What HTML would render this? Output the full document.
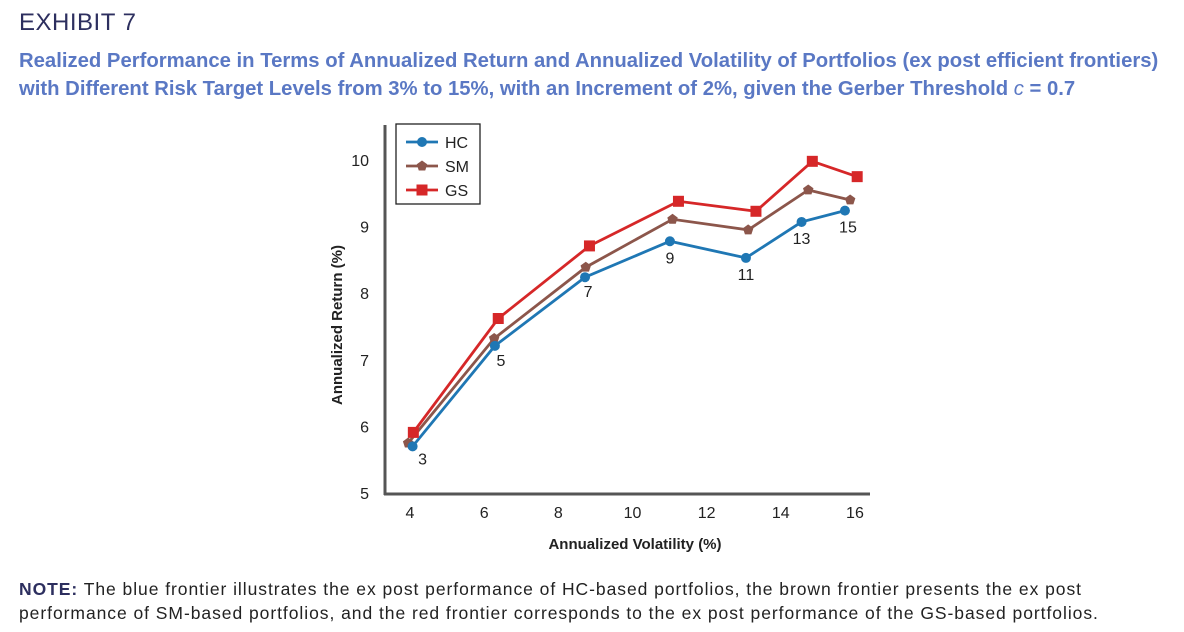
<!DOCTYPE html>
<html><head><meta charset="utf-8"><style>
body{margin:0;width:1184px;height:632px;background:#fff;font-family:"Liberation Sans",Arial,sans-serif;position:relative;overflow:hidden}
.t{position:absolute;white-space:nowrap}
</style></head><body>
<div class="t" style="left:19px;top:9px;font-size:24px;color:#2d2f5f;letter-spacing:0.5px">EXHIBIT 7</div>
<div class="t" style="left:19px;top:47px;font-size:20.3px;font-weight:bold;color:#5a78c4;line-height:28px">Realized Performance in Terms of Annualized Return and Annualized Volatility of Portfolios (ex post efficient frontiers)<br>with Different Risk Target Levels from 3% to 15%, with an Increment of 2%, given the Gerber Threshold <i style="font-weight:normal">c</i> = 0.7</div>
<svg width="1184" height="632" style="position:absolute;left:0;top:0" id="chart"></svg>
<div class="t" style="left:19px;top:577px;font-size:17.5px;letter-spacing:0.95px;color:#222;line-height:24px"><b style="color:#2d2f5f">NOTE:</b> The blue frontier illustrates the ex post performance of HC-based portfolios, the brown frontier presents the ex post<br>performance of SM-based portfolios, and the red frontier corresponds to the ex post performance of the GS-based portfolios.</div>
<script>
const xTicks=[4,6,8,10,12,14,16];
const yTicks=[5,6,7,8,9,10];
const riskLabels=["3","5","7","9","11","13","15"];
const hcX=[4.07,6.29,8.72,11.01,13.06,14.56,15.73];
const hcY=[5.70,7.21,8.24,8.78,8.53,9.07,9.24];
const smX=[3.95,6.27,8.74,11.08,13.12,14.74,15.87];
const smY=[5.75,7.32,8.39,9.11,8.95,9.55,9.40];
const gsX=[4.09,6.38,8.84,11.24,13.33,14.85,16.06];
const gsY=[5.91,7.62,8.71,9.38,9.23,9.98,9.75];
const svg=document.getElementById('chart');const NS='http://www.w3.org/2000/svg';
const sx=v=>410+(v-4)*37.08, sy=v=>493-(v-5)*66.6;
function mk(t,a,txt){const e=document.createElementNS(NS,t);for(const k in a)e.setAttribute(k,a[k]);if(txt!==undefined)e.textContent=txt;svg.appendChild(e);return e;}
let e;
e=mk('line',{x1:385,y1:125,x2:385,y2:495,stroke:'#555','stroke-width':3});


e=mk('line',{x1:384,y1:494,x2:870,y2:494,stroke:'#555','stroke-width':3});


xTicks.forEach(v=>{e=mk('text',{x:sx(v),y:518,'text-anchor':'middle','font-size':16,fill:'#222'},v);

});
yTicks.forEach(v=>{e=mk('text',{x:369,y:sy(v)+6,'text-anchor':'end','font-size':16,fill:'#222'},v);

});
e=mk('text',{x:635,y:549,'text-anchor':'middle','font-size':15,'font-weight':'bold',fill:'#222'},'Annualized Volatility (%)');


e=mk('text',{x:0,y:0,transform:'translate(342,325) rotate(-90)','text-anchor':'middle','font-size':15,'font-weight':'bold',fill:'#222'},'Annualized Return (%)');


function marker(shape,x,y,c){
 if(shape==='c')return mk('circle',{cx:x,cy:y,r:5,fill:c});
 if(shape==='s')return mk('rect',{x:x-5.5,y:y-5.5,width:11,height:11,fill:c});
 const p=[];for(let i=0;i<5;i++){const a=-Math.PI/2+i*2*Math.PI/5;p.push((x+5.5*Math.cos(a))+','+(y+5.5*Math.sin(a)));}
 return mk('polygon',{points:p.join(' '),fill:c});
}
function series(name,X,Y,c,shape){
 e=mk('polyline',{points:X.map((v,i)=>sx(v)+','+sy(Y[i])).join(' '),fill:'none',stroke:c,'stroke-width':2.8});
 
 
 X.forEach((v,i)=>{e=marker(shape,sx(v),sy(Y[i]),c);
 
 });
}
series('sm',smX,smY,'#8c564b','p');
series('hc',hcX,hcY,'#1f77b4','c');
series('gs',gsX,gsY,'#d62728','s');
const off=[[10,18],[6,20],[3,20],[0,22],[0,22],[0,22],[3,22]];
riskLabels.forEach((l,i)=>{e=mk('text',{x:sx(hcX[i])+off[i][0],y:sy(hcY[i])+off[i][1],'text-anchor':'middle','font-size':16,fill:'#222'},l);

});
e=mk('rect',{x:396,y:124,width:84,height:80,fill:'#fff',stroke:'#222','stroke-width':1.3});


[['HC','#1f77b4','c'],['SM','#8c564b','p'],['GS','#d62728','s']].forEach((s,i)=>{const y=142+i*24;
 mk('line',{x1:406,y1:y,x2:438,y2:y,stroke:s[1],'stroke-width':2.8});marker(s[2],422,y,s[1]);
 e=mk('text',{x:445,y:y+6,'font-size':16,fill:'#222'},s[0]);
 
 });
</script>
</body></html>
